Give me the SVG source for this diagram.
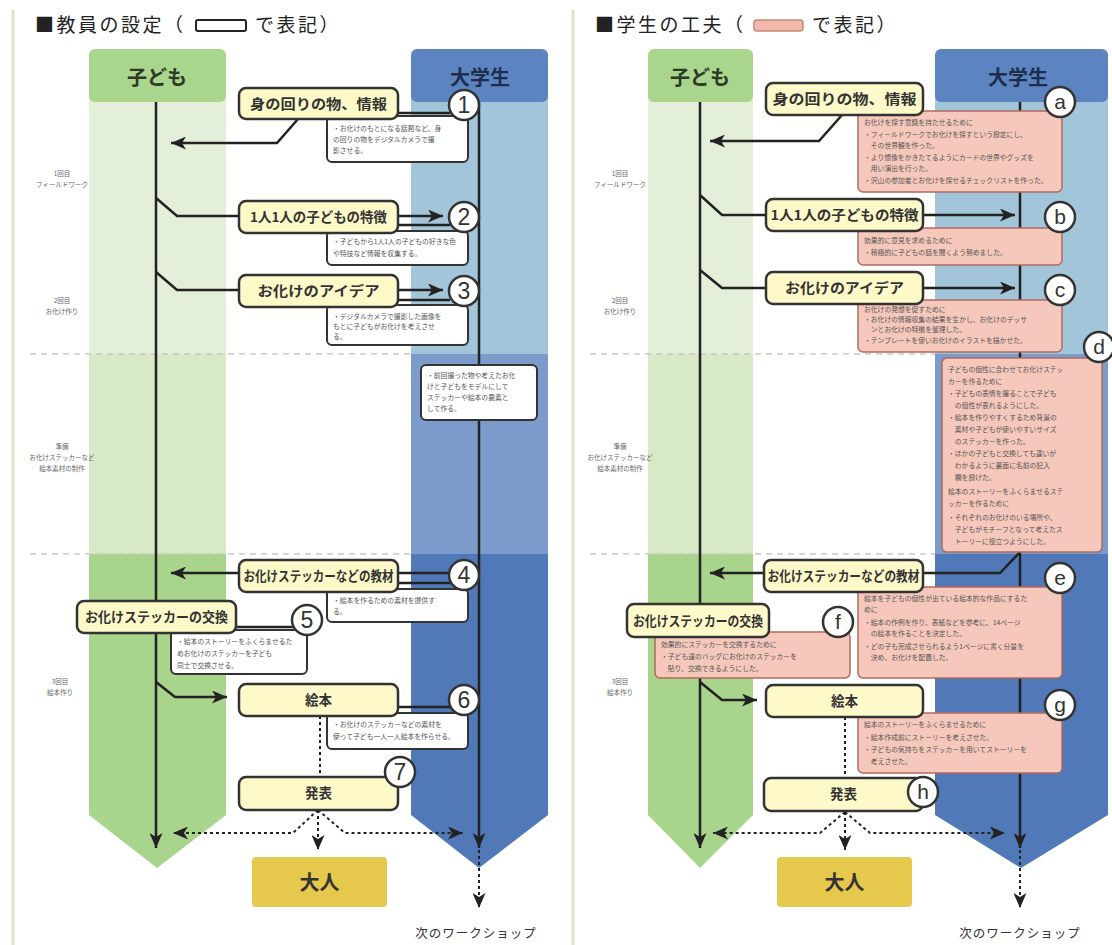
<svg xmlns="http://www.w3.org/2000/svg" width="1112" height="945" viewBox="0 0 1112 945">
<style>
text{font-family:"Noto Sans CJK JP","Noto Sans",sans-serif}
.title{font-size:19px;fill:#222;letter-spacing:2.5px}
.hd{font-size:20px;font-weight:700;text-anchor:middle}
.lbl{font-size:13.5px;font-weight:700;fill:#333;text-anchor:middle}
.note{font-size:6.8px;fill:#555}
.side{font-size:6.5px;fill:#666;text-anchor:middle}
.num{font-family:"Liberation Sans",sans-serif;font-size:23px;fill:#333;text-anchor:middle}
.let{font-family:"Liberation Sans",sans-serif;font-size:21px;fill:#333;text-anchor:middle}
.ybox{fill:#fdf9c8;stroke:#333;stroke-width:2.5}
.wnote{fill:#fff;stroke:#333;stroke-width:2}
.pnote{fill:#f6c8bb;stroke:#b0695d;stroke-width:1.5}
.circ{fill:#fff;stroke:#333;stroke-width:2.5}
.ln{stroke:#222;stroke-width:2.5;fill:none}
.dot{stroke:#222;stroke-width:2;stroke-dasharray:3 3;fill:none}
.dash{stroke:#c8c8c8;stroke-width:1.5;stroke-dasharray:6 5;fill:none}
.adult{fill:#e6c84c}
</style>
<defs>
<marker id="ah" markerUnits="userSpaceOnUse" markerWidth="15" markerHeight="13" refX="15" refY="6.5" orient="auto">
<path d="M0,0 L15,6.5 L0,13 L4,6.5 z" fill="#222"/>
</marker>
</defs>
<rect width="1112" height="945" fill="#fff"/>
<line x1="13" y1="10" x2="13" y2="945" stroke="#e3e1c6" stroke-width="3"/>
<line x1="573" y1="10" x2="573" y2="945" stroke="#e3e1c6" stroke-width="3"/>

<g id="title-left">
<text class="title" x="35" y="32">■教員の設定（</text>
<rect x="196" y="20" width="50" height="11" rx="2" fill="#fff" stroke="#222" stroke-width="2"/>
<text class="title" x="255" y="32">で表記）</text>
</g>
<g id="title-right">
<text class="title" x="595" y="32">■学生の工夫（</text>
<rect x="754" y="20" width="49" height="11" rx="3" fill="#f2b8a9" stroke="#c98777" stroke-width="1.5"/>
<text class="title" x="812" y="32">で表記）</text>
</g>

<!-- columns left -->
<g id="col-child-left">
<rect x="89" y="95" width="137" height="260" fill="#e3efd8"/>
<rect x="89" y="354" width="137" height="201" fill="#d7e9c6"/>
<polygon points="89,554 226,554 226,815 157,868 89,815" fill="#a9d48c"/>
<rect x="89" y="49" width="137" height="53" rx="6" fill="#a9d68c"/>
<text class="hd" x="157" y="85" fill="#2e3a26">子ども</text>
</g>
<g id="col-student-left">
<rect x="411" y="95" width="137" height="260" fill="#a3c5da"/>
<rect x="411" y="354" width="137" height="201" fill="#7b9bcb"/>
<polygon points="411,554 548,554 548,815 479,868 411,815" fill="#5179b7"/>
<rect x="411" y="49" width="137" height="53" rx="6" fill="#5b84c1"/>
<text class="hd" x="480" y="85" fill="#1f2d4d">大学生</text>
</g>
<!-- columns right -->
<g id="col-child-right">
<rect x="648" y="95" width="105" height="260" fill="#e3efd8"/>
<rect x="648" y="354" width="105" height="201" fill="#d7e9c6"/>
<polygon points="648,554 753,554 753,815 700,868 648,815" fill="#a9d48c"/>
<rect x="648" y="49" width="105" height="53" rx="6" fill="#a9d68c"/>
<text class="hd" x="700" y="85" fill="#2e3a26">子ども</text>
</g>
<g id="col-student-right">
<rect x="935" y="95" width="173" height="260" fill="#a3c5da"/>
<rect x="935" y="354" width="173" height="201" fill="#7b9bcb"/>
<polygon points="935,554 1108,554 1108,815 1021,868 935,815" fill="#5179b7"/>
<rect x="935" y="49" width="173" height="53" rx="6" fill="#5b84c1"/>
<text class="hd" x="1018" y="85" fill="#1f2d4d">大学生</text>
</g>

<g id="separators">
<line class="dash" x1="30" y1="354" x2="411" y2="354"/>
<line class="dash" x1="30" y1="554" x2="411" y2="554"/>
<line class="dash" x1="590" y1="354" x2="935" y2="354"/>
<line class="dash" x1="590" y1="554" x2="935" y2="554"/>
</g>

<g id="side-labels">
<text class="side" x="62" y="176">1回目</text><text class="side" x="62" y="187">フィールドワーク</text>
<text class="side" x="62" y="303">2回目</text><text class="side" x="62" y="314">お化け作り</text>
<text class="side" x="62" y="449">準備</text><text class="side" x="62" y="460">お化けステッカーなど</text><text class="side" x="62" y="471">絵本素材の制作</text>
<text class="side" x="60" y="684">3回目</text><text class="side" x="60" y="695">絵本作り</text>
<text class="side" x="620" y="176">1回目</text><text class="side" x="620" y="187">フィールドワーク</text>
<text class="side" x="620" y="303">2回目</text><text class="side" x="620" y="314">お化け作り</text>
<text class="side" x="620" y="449">準備</text><text class="side" x="620" y="460">お化けステッカーなど</text><text class="side" x="620" y="471">絵本素材の制作</text>
<text class="side" x="620" y="684">3回目</text><text class="side" x="620" y="695">絵本作り</text>
</g>

<g id="connectors">
<!-- left -->
<path class="ln" d="M156,102 V848" marker-end="url(#ah)"/>
<path class="ln" d="M479,102 V848" marker-end="url(#ah)"/>
<path class="ln" d="M450,113 H398"/>
<path class="ln" d="M298,119 L277,143 H171" marker-end="url(#ah)"/>
<path class="ln" d="M156,198 L177,216 H239"/>
<path class="ln" d="M398,216 H443" marker-end="url(#ah)"/>
<path class="ln" d="M398,225 H450"/>
<path class="ln" d="M156,272 L177,290 H239"/>
<path class="ln" d="M398,290 H443" marker-end="url(#ah)"/>
<path class="ln" d="M398,300 H450"/>
<path class="ln" d="M450,573 H171" marker-end="url(#ah)"/>
<path class="ln" d="M398,583 H450"/>
<path class="ln" d="M236,627 H293"/>
<path class="ln" d="M156,682 L175,697 H227" marker-end="url(#ah)"/>
<path class="ln" d="M398,707 H450"/>
<path class="dot" d="M320,716 V777"/>
<path class="dot" d="M318,810 V850" marker-end="url(#ah)"/>
<path class="dot" d="M318,810 L293,833 H173" marker-end="url(#ah)"/>
<path class="dot" d="M318,810 L345,833 H463" marker-end="url(#ah)"/>
<path class="dot" d="M479,850 V908" marker-end="url(#ah)"/>
<!-- right -->
<path class="ln" d="M700,102 V848" marker-end="url(#ah)"/>
<path class="ln" d="M1020,102 V848" marker-end="url(#ah)"/>
<path class="ln" d="M842,115 L819,141 H710" marker-end="url(#ah)"/>
<path class="ln" d="M700,195 L722,215 H766"/>
<path class="ln" d="M923,215 H1015" marker-end="url(#ah)"/>
<path class="ln" d="M700,270 L722,288 H766"/>
<path class="ln" d="M923,288 H1015" marker-end="url(#ah)"/>
<path class="ln" d="M1020,552 L1000,573 H710" marker-end="url(#ah)"/>
<path class="ln" d="M700,682 L722,700 H757" marker-end="url(#ah)"/>
<path class="dot" d="M845,717 V778"/>
<path class="dot" d="M845,812 V850" marker-end="url(#ah)"/>
<path class="dot" d="M845,812 L820,833 H713" marker-end="url(#ah)"/>
<path class="dot" d="M845,812 L870,833 H1005" marker-end="url(#ah)"/>
<path class="dot" d="M1020,850 V908" marker-end="url(#ah)"/>
</g>

<!-- LEFT nodes -->
<g id="n1">
<rect class="wnote" x="327" y="116" width="141" height="46" rx="5"/>
<text class="note" x="333" y="131">・お化けのもとになる話題など、身</text>
<text class="note" x="333" y="142">の回りの物をデジタルカメラで撮</text>
<text class="note" x="333" y="153">影させる。</text>
<rect class="ybox" x="239" y="88" width="159" height="31" rx="7"/>
<text class="lbl" x="318.5" y="108.5" textLength="137" lengthAdjust="spacingAndGlyphs">身の回りの物、情報</text>
<circle class="circ" cx="464" cy="105" r="15"/>
<text class="num" x="464" y="113">1</text>
</g>
<g id="n2">
<rect class="wnote" x="327" y="231" width="141" height="34" rx="5"/>
<text class="note" x="333" y="244">・子どもから1人1人の子どもの好きな色</text>
<text class="note" x="333" y="256">や特技など情報を収集する。</text>
<rect class="ybox" x="239" y="201" width="159" height="32" rx="7"/>
<text class="lbl" x="318.5" y="222" textLength="137" lengthAdjust="spacingAndGlyphs">1人1人の子どもの特徴</text>
<circle class="circ" cx="464" cy="217" r="15"/>
<text class="num" x="464" y="225">2</text>
</g>
<g id="n3">
<rect class="wnote" x="327" y="305" width="141" height="40" rx="5"/>
<text class="note" x="333" y="319">・デジタルカメラで撮影した画像を</text>
<text class="note" x="333" y="329">もとに子どもがお化けを考えさせ</text>
<text class="note" x="333" y="339">る。</text>
<rect class="ybox" x="239" y="275" width="159" height="32" rx="7"/>
<text class="lbl" x="318.5" y="296" textLength="122" lengthAdjust="spacingAndGlyphs">お化けのアイデア</text>
<circle class="circ" cx="464" cy="291" r="15"/>
<text class="num" x="464" y="299">3</text>
</g>
<g id="n-student-note">
<rect class="wnote" x="421" y="365" width="116" height="55" rx="5"/>
<text class="note" x="427" y="378">・前回撮った物や考えたお化</text>
<text class="note" x="427" y="389">けと子どもをモデルにして</text>
<text class="note" x="427" y="400">ステッカーや絵本の要素と</text>
<text class="note" x="427" y="411">して作る。</text>
</g>
<g id="n4">
<rect class="wnote" x="327" y="589" width="141" height="33" rx="5"/>
<text class="note" x="333" y="603">・絵本を作るための素材を提供す</text>
<text class="note" x="333" y="614">る。</text>
<rect class="ybox" x="239" y="560" width="159" height="32" rx="7"/>
<text class="lbl" x="318.5" y="581" textLength="150" lengthAdjust="spacingAndGlyphs">お化けステッカーなどの教材</text>
<circle class="circ" cx="464" cy="575" r="15"/>
<text class="num" x="464" y="583">4</text>
</g>
<g id="n5">
<rect class="wnote" x="171" y="630" width="136" height="44" rx="5"/>
<text class="note" x="177" y="644">・絵本のストーリーをふくらませるた</text>
<text class="note" x="177" y="656">めお化けのステッカーを子ども</text>
<text class="note" x="177" y="668">同士で交換させる。</text>
<rect class="ybox" x="77" y="601" width="159" height="32" rx="7"/>
<text class="lbl" x="156.5" y="622" textLength="143" lengthAdjust="spacingAndGlyphs">お化けステッカーの交換</text>
<circle class="circ" cx="307" cy="620" r="15"/>
<text class="num" x="307" y="628">5</text>
</g>
<g id="n6">
<rect class="wnote" x="327" y="713" width="141" height="36" rx="5"/>
<text class="note" x="333" y="727">・お化けのステッカーなどの素材を</text>
<text class="note" x="333" y="739">使って子ども一人一人絵本を作らせる。</text>
<rect class="ybox" x="239" y="684" width="159" height="32" rx="7"/>
<text class="lbl" x="318.5" y="705">絵本</text>
<circle class="circ" cx="464" cy="700" r="15"/>
<text class="num" x="464" y="708">6</text>
</g>
<g id="n7">
<rect class="ybox" x="239" y="777" width="159" height="33" rx="7"/>
<text class="lbl" x="318.5" y="798">発表</text>
<circle class="circ" cx="400" cy="772" r="15"/>
<text class="num" x="400" y="780">7</text>
</g>
<g id="adult-left">
<rect class="adult" x="252" y="857" width="135" height="50" rx="4"/>
<text class="hd" x="319.5" y="890" fill="#333">大人</text>
</g>
<g id="next-left">
<text x="476" y="938" font-size="12.5" fill="#333" text-anchor="middle" letter-spacing="1">次のワークショップ</text>
</g>

<!-- RIGHT nodes -->
<g id="na">
<rect class="pnote" x="858" y="111" width="204" height="81" rx="5"/>
<text class="note" x="864" y="125">お化けを探す意識を持たせるために</text>
<text class="note" x="864" y="137">・フィールドワークでお化けを探すという設定にし、</text>
<text class="note" x="864" y="148">　その世界観を作った。</text>
<text class="note" x="864" y="160">・より想像をかきたてるようにカードの世界やグッズを</text>
<text class="note" x="864" y="171">　用い演出を行った。</text>
<text class="note" x="864" y="183">・沢山の参加者とお化けを探せるチェックリストを作った。</text>
<rect class="ybox" x="766" y="83" width="157" height="32" rx="7"/>
<text class="lbl" x="844.5" y="104" textLength="144" lengthAdjust="spacingAndGlyphs">身の回りの物、情報</text>
<circle class="circ" cx="1060" cy="102" r="15"/>
<text class="let" x="1060" y="109">a</text>
</g>
<g id="nb">
<rect class="pnote" x="858" y="228" width="204" height="37" rx="5"/>
<text class="note" x="864" y="243">効果的に意見を求めるために</text>
<text class="note" x="864" y="255">・積極的に子どもの話を聞くよう努めました。</text>
<rect class="ybox" x="766" y="199" width="157" height="32" rx="7"/>
<text class="lbl" x="844.5" y="220" textLength="148" lengthAdjust="spacingAndGlyphs">1人1人の子どもの特徴</text>
<circle class="circ" cx="1060" cy="217" r="15"/>
<text class="let" x="1060" y="224">b</text>
</g>
<g id="nc">
<rect class="pnote" x="858" y="300" width="204" height="52" rx="5"/>
<text class="note" x="864" y="312">お化けの発想を促すために</text>
<text class="note" x="864" y="322">・お化けの情報収集の結果を生かし、お化けのデッサ</text>
<text class="note" x="864" y="332">　ンとお化けの特徴を整理した。</text>
<text class="note" x="864" y="343">・テンプレートを使いお化けのイラストを描かせた。</text>
<rect class="ybox" x="766" y="272" width="157" height="32" rx="7"/>
<text class="lbl" x="844.5" y="293" textLength="119" lengthAdjust="spacingAndGlyphs">お化けのアイデア</text>
<circle class="circ" cx="1060" cy="290" r="15"/>
<text class="let" x="1060" y="297">c</text>
</g>
<g id="nd">
<rect class="pnote" x="942" y="358" width="160" height="194" rx="5"/>
<text class="note" x="948" y="372">子どもの個性に合わせてお化けステッ</text>
<text class="note" x="948" y="384">カーを作るために</text>
<text class="note" x="948" y="396">・子どもの表情を撮ることで子ども</text>
<text class="note" x="948" y="408">　の個性が表れるようにした。</text>
<text class="note" x="948" y="420">・絵本を作りやすくするため背景の</text>
<text class="note" x="948" y="432">　素材や子どもが使いやすいサイズ</text>
<text class="note" x="948" y="444">　のステッカーを作った。</text>
<text class="note" x="948" y="456">・ほかの子どもと交換しても違いが</text>
<text class="note" x="948" y="468">　わかるように裏面に名前の記入</text>
<text class="note" x="948" y="480">　欄を設けた。</text>
<text class="note" x="948" y="494">絵本のストーリーをふくらませるステ</text>
<text class="note" x="948" y="506">ッカーを作るために</text>
<text class="note" x="948" y="520">・それぞれのお化けのいる場所や、</text>
<text class="note" x="948" y="532">　子どもがモチーフとなって考えたス</text>
<text class="note" x="948" y="544">　トーリーに役立つようにした。</text>
<circle class="circ" cx="1099" cy="347" r="15"/>
<text class="let" x="1099" y="354">d</text>
</g>
<g id="ne">
<rect class="pnote" x="858" y="587" width="204" height="91" rx="5"/>
<text class="note" x="864" y="601">絵本を子どもの個性が出ている絵本的な作品にするた</text>
<text class="note" x="864" y="612">めに</text>
<text class="note" x="864" y="625">・絵本の作例を作り、表紙などを参考に、14ページ</text>
<text class="note" x="864" y="636">　の絵本を作ることを決定した。</text>
<text class="note" x="864" y="649">・どの子も完成させられるよう1ページに書く分量を</text>
<text class="note" x="864" y="660">　決め、お化けを配置した。</text>
<rect class="ybox" x="764" y="560" width="159" height="32" rx="7"/>
<text class="lbl" x="843.5" y="581" textLength="152" lengthAdjust="spacingAndGlyphs">お化けステッカーなどの教材</text>
<circle class="circ" cx="1060" cy="578" r="15"/>
<text class="let" x="1060" y="585">e</text>
</g>
<g id="nf">
<rect class="pnote" x="655" y="632" width="195" height="46" rx="5"/>
<text class="note" x="661" y="647">効果的にステッカーを交換するために</text>
<text class="note" x="661" y="659">・子ども達のバッグにお化けのステッカーを</text>
<text class="note" x="661" y="671">　貼り、交換できるようにした。</text>
<rect class="ybox" x="627" y="604" width="142" height="33" rx="7"/>
<text class="lbl" x="698" y="625.5" textLength="130" lengthAdjust="spacingAndGlyphs">お化けステッカーの交換</text>
<circle class="circ" cx="838" cy="622" r="15"/>
<text class="let" x="838" y="629">f</text>
</g>
<g id="ng">
<rect class="pnote" x="858" y="713" width="204" height="60" rx="5"/>
<text class="note" x="864" y="727">絵本のストーリーをふくらませるために</text>
<text class="note" x="864" y="740">・絵本作成前にストーリーを考えさせた。</text>
<text class="note" x="864" y="752">・子どもの気持ちをステッカーを用いてストーリーを</text>
<text class="note" x="864" y="764">　考えさせた。</text>
<rect class="ybox" x="766" y="685" width="157" height="32" rx="7"/>
<text class="lbl" x="844.5" y="706">絵本</text>
<circle class="circ" cx="1060" cy="705" r="15"/>
<text class="let" x="1060" y="712">g</text>
</g>
<g id="nh">
<rect class="ybox" x="764" y="778" width="159" height="33" rx="7"/>
<text class="lbl" x="843.5" y="799">発表</text>
<circle class="circ" cx="923" cy="792" r="15"/>
<text class="let" x="923" y="799">h</text>
</g>
<g id="adult-right">
<rect class="adult" x="777" y="857" width="135" height="50" rx="4"/>
<text class="hd" x="844.5" y="890" fill="#333">大人</text>
</g>
<g id="next-right">
<text x="1020" y="938" font-size="12.5" fill="#333" text-anchor="middle" letter-spacing="1">次のワークショップ</text>
</g>
</svg>
